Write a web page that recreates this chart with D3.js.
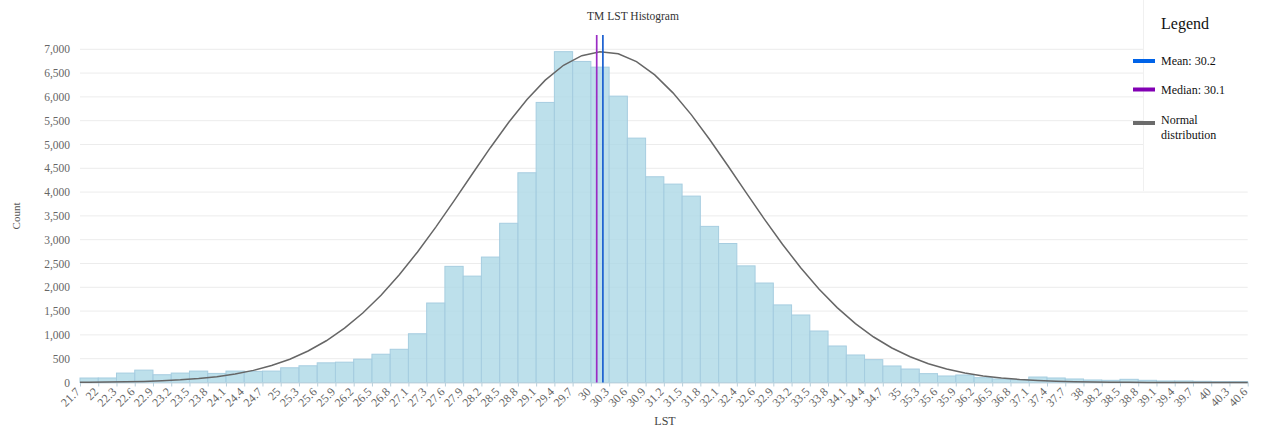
<!DOCTYPE html>
<html>
<head>
<meta charset="utf-8">
<script src="https://cdn.jsdelivr.net/npm/d3@7"></script>
<style>
  html, body { margin: 0; padding: 0; background: #fff; }
  svg { display: block; font-family: "Liberation Serif", "Times New Roman", serif; }
</style>
</head>
<body>
<svg id="chart" width="1265" height="427"></svg>
<script>
// Histogram of TM land surface temperature (LST), 64 bins
const binStart = 21.737;
const binWidth = 0.2953;

const counts = [
  94, 95, 198, 260, 163, 198, 240, 191, 240, 233,
  240, 309, 351, 413, 427, 490, 594, 698, 1024, 1670,
  2440, 2235, 2635, 3345, 4406, 5884, 6950, 6745, 6625, 6016,
  5134, 4322, 4168, 3916, 3280, 2920, 2450, 2090, 1630, 1418,
  1082, 767, 578, 480, 347, 283, 186, 137, 158, 101,
  74, 60, 115, 95, 74, 53, 46, 67, 46, 32,
  32, 25, 18, 18
];

// Labels shown at each bin edge
const edgeLabels = [
  "21.7", "22", "22.3", "22.6", "22.9", "23.2", "23.5", "23.8", "24.1", "24.4",
  "24.7", "25", "25.3", "25.6", "25.9", "26.2", "26.5", "26.8", "27.1", "27.3",
  "27.6", "27.9", "28.2", "28.5", "28.8", "29.1", "29.4", "29.7", "30", "30.3",
  "30.6", "30.9", "31.2", "31.5", "31.8", "32.1", "32.4", "32.6", "32.9", "33.2",
  "33.5", "33.8", "34.1", "34.4", "34.7", "35", "35.3", "35.6", "35.9", "36.2",
  "36.5", "36.8", "37.1", "37.4", "37.7", "38", "38.2", "38.5", "38.8", "39.1",
  "39.4", "39.7", "40", "40.3", "40.6"
];

const yTicks = [0, 500, 1000, 1500, 2000, 2500, 3000, 3500, 4000, 4500, 5000, 5500, 6000, 6500, 7000];

// Summary statistics
const meanValue = 30.2;
const medianValue = 30.1;
const normalSd = 2.2;
const normalPeak = 6950;

const svg = d3.select("#chart");
const plotLeft = 80, plotRight = 1247.7, plotTop = 49.3, plotBottom = 382.5;

const xMax = binStart + counts.length * binWidth;
const x = d3.scaleLinear().domain([binStart, xMax]).range([plotLeft, plotRight]);
const y = d3.scaleLinear().domain([0, 7000]).range([plotBottom, plotTop]);

// Horizontal grid lines
svg.append("g")
  .selectAll("line")
  .data(yTicks.filter(d => d > 0))
  .join("line")
  .attr("x1", plotLeft).attr("x2", plotRight)
  .attr("y1", d => y(d)).attr("y2", d => y(d))
  .attr("stroke", "#ececec").attr("stroke-width", 1);

// Y axis (labels only)
const yAxis = svg.append("g")
  .attr("transform", `translate(${plotLeft},0)`)
  .call(d3.axisLeft(y).tickValues(yTicks).tickFormat(d3.format(",")).tickSize(0).tickPadding(10));
yAxis.select(".domain").remove();
yAxis.selectAll("text")
  .attr("fill", "#666").attr("font-size", 11.5)
  .attr("font-family", "Liberation Serif, Times New Roman, serif");

// Bars
svg.append("g")
  .selectAll("rect")
  .data(counts)
  .join("rect")
  .attr("x", (d, i) => x(binStart + i * binWidth))
  .attr("width", (d, i) => x(binStart + (i + 1) * binWidth) - x(binStart + i * binWidth))
  .attr("y", d => y(d))
  .attr("height", d => plotBottom - y(d))
  .attr("fill", "#add8e6")
  .attr("fill-opacity", 0.8)
  .attr("stroke", "#a6cde0")
  .attr("stroke-width", 1);

// X axis with bin-edge ticks
const edges = edgeLabels.map((lab, i) => binStart + i * binWidth);
const xAxis = svg.append("g")
  .attr("transform", `translate(0,${plotBottom})`)
  .call(d3.axisBottom(x).tickValues(edges).tickFormat((d, i) => edgeLabels[i]).tickSize(4).tickSizeOuter(0));
xAxis.select(".domain").attr("stroke", "#c8d8e0");
xAxis.selectAll(".tick line").attr("stroke", "#b8cfdb");
xAxis.selectAll("text")
  .attr("fill", "#666").attr("font-size", 12)
  .attr("font-family", "Liberation Serif, Times New Roman, serif")
  .attr("text-anchor", "end")
  .attr("transform", "rotate(-45)")
  .attr("x", -7).attr("y", 3).attr("dy", "0.35em");

// Normal distribution curve through bin centres
const curvePts = [binStart]
  .concat(counts.map((d, i) => binStart + (i + 0.5) * binWidth))
  .concat([xMax]);
const normal = v => normalPeak * Math.exp(-((v - meanValue) ** 2) / (2 * normalSd * normalSd));
svg.append("path")
  .datum(curvePts)
  .attr("fill", "none")
  .attr("stroke", "#666")
  .attr("stroke-width", 1.5)
  .attr("d", d3.line().x(v => x(v)).y(v => y(normal(v))));

// Median and mean markers
svg.append("line")
  .attr("x1", x(medianValue)).attr("x2", x(medianValue))
  .attr("y1", 35).attr("y2", plotBottom)
  .attr("stroke", "#9a2cc4").attr("stroke-width", 1.7);
svg.append("line")
  .attr("x1", x(meanValue)).attr("x2", x(meanValue))
  .attr("y1", 35).attr("y2", plotBottom)
  .attr("stroke", "#1a5fd0").attr("stroke-width", 1.7);

// Title and axis titles
svg.append("text")
  .attr("x", 633).attr("y", 20)
  .attr("text-anchor", "middle")
  .attr("font-size", 11.5).attr("fill", "#333")
  .text("TM LST Histogram");
svg.append("text")
  .attr("x", 665).attr("y", 425)
  .attr("text-anchor", "middle")
  .attr("font-size", 12).attr("fill", "#444")
  .text("LST");
svg.append("text")
  .attr("transform", "translate(20,216) rotate(-90)")
  .attr("text-anchor", "middle")
  .attr("font-size", 11).attr("fill", "#555")
  .text("Count");

// Legend panel
const legend = svg.append("g");
legend.append("rect")
  .attr("x", 1143).attr("y", 0).attr("width", 122).attr("height", 191)
  .attr("fill", "#fff");
legend.append("line")
  .attr("x1", 1143.5).attr("x2", 1143.5).attr("y1", 0).attr("y2", 191)
  .attr("stroke", "#f0f0f0");
legend.append("text")
  .attr("x", 1161).attr("y", 29)
  .attr("font-size", 16).attr("fill", "#111")
  .text("Legend");

const legendItems = [
  { label: ["Mean: " + meanValue.toFixed(1)], color: "#0063e8", y: 61 },
  { label: ["Median: " + medianValue.toFixed(1)], color: "#8200b4", y: 89.5 },
  { label: ["Normal", "distribution"], color: "#6b6b6b", y: 123 }
];
legendItems.forEach(item => {
  legend.append("rect")
    .attr("x", 1133).attr("y", item.y - 2).attr("width", 22).attr("height", 4)
    .attr("fill", item.color);
  const t = legend.append("text")
    .attr("font-size", 12).attr("fill", "#111");
  const y0 = item.label.length > 1 ? item.y + 1 : item.y + 4;
  item.label.forEach((line, k) => {
    t.append("tspan").attr("x", 1161).attr("y", y0 + k * 14.5).text(line);
  });
});
</script>
</body>
</html>
